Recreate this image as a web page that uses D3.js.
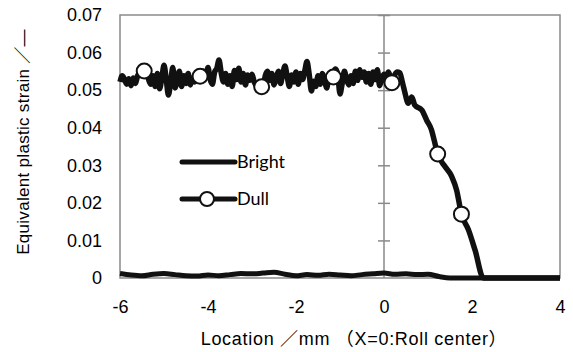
<!DOCTYPE html>
<html><head><meta charset="utf-8">
<script src="https://cdn.jsdelivr.net/npm/d3@7"></script>
<style>
html,body{margin:0;padding:0;background:#fff;}
text{font-family:"Liberation Sans","Noto Sans CJK JP",sans-serif;}
</style></head>
<body><svg id="c" width="573" height="352"></svg>
<script>
// ---- data ----
const xTicks = [-6, -4, -2, 0, 2, 4];
const xTickLabels = ["-6", "-4", "-2", "0", "2", "4"];
const yTicks = [0, 0.01, 0.02, 0.03, 0.04, 0.05, 0.06, 0.07];
const yTickLabels = ["0", "0.01", "0.02", "0.03", "0.04", "0.05", "0.06", "0.07"];

// Bright (no markers)
const brightX = [-6, -5.75, -5.5, -5.25, -5, -4.75, -4.5, -4.25, -4, -3.75, -3.5, -3.25, -3, -2.75, -2.5, -2.25, -2, -1.75, -1.5, -1.25, -1, -0.75, -0.5, -0.25, 0, 0.25, 0.5, 0.75, 1.0, 1.25, 1.5, 4];
const brightY = [0.0012, 0.0008, 0.0006, 0.0010, 0.0012, 0.0009, 0.0006, 0.0005, 0.0008, 0.0006, 0.0009, 0.0012, 0.0011, 0.0013, 0.0015, 0.0010, 0.0006, 0.0009, 0.0007, 0.0010, 0.0008, 0.0006, 0.0009, 0.0011, 0.0013, 0.0010, 0.0011, 0.0009, 0.0010, 0.0004, 0.0, 0.0];

// Dull: noisy plateau sampled every 0.05 mm from -6.00 to 0.30
const dullPlateauStart = -6.0;
const dullPlateauStep = 0.05;
const dullPlateau = [
  0.0522, 0.0538, 0.0530, 0.0516, 0.0530, 0.0512, 0.0532, 0.0518, 0.0538, 0.0548,
  0.0552, 0.0554, 0.0546, 0.0528, 0.0516, 0.0538, 0.0510, 0.0544, 0.0504, 0.0532,
  0.0566, 0.0530, 0.0487, 0.0520, 0.0560, 0.0506, 0.0528, 0.0550, 0.0510, 0.0538,
  0.0518, 0.0544, 0.0514, 0.0532, 0.0522, 0.0540, 0.0544, 0.0530, 0.0550, 0.0536,
  0.0560, 0.0528, 0.0516, 0.0548, 0.0558, 0.0580, 0.0546, 0.0522, 0.0544, 0.0516,
  0.0538, 0.0510, 0.0552, 0.0528, 0.0558, 0.0522, 0.0544, 0.0514, 0.0540, 0.0526,
  0.0542, 0.0522, 0.0512, 0.0508, 0.0518, 0.0508, 0.0538, 0.0550, 0.0526, 0.0544,
  0.0514, 0.0532, 0.0550, 0.0518, 0.0544, 0.0564, 0.0536, 0.0510, 0.0540, 0.0522,
  0.0548, 0.0516, 0.0544, 0.0528, 0.0552, 0.0576, 0.0542, 0.0498, 0.0524, 0.0510,
  0.0538, 0.0516, 0.0544, 0.0526, 0.0506, 0.0538, 0.0526, 0.0548, 0.0556, 0.0540,
  0.0490, 0.0518, 0.0550, 0.0528, 0.0514, 0.0538, 0.0518, 0.0550, 0.0526, 0.0554,
  0.0534, 0.0548, 0.0522, 0.0544, 0.0516, 0.0548, 0.0528, 0.0554, 0.0512, 0.0530,
  0.0542, 0.0522, 0.0548, 0.0534, 0.0528, 0.0542, 0.0548
];
// Dull: decline part
const dullTailX = [0.36, 0.42, 0.48, 0.55, 0.63, 0.70, 0.86, 0.97, 1.08, 1.14, 1.22, 1.39, 1.54, 1.65, 1.76, 1.92, 2.07, 2.26, 4.0];
const dullTailY = [0.0546, 0.0520, 0.0491, 0.0465, 0.0482, 0.0460, 0.0447, 0.0420, 0.0394, 0.0367, 0.0330, 0.0296, 0.0270, 0.0234, 0.0170, 0.0128, 0.0074, 0.0, 0.0];
// Dull markers
const dullMarkX = [-5.45, -4.18, -2.78, -1.15, 0.18, 1.22, 1.76];
const dullMarkY = [0.0551, 0.0537, 0.0509, 0.0535, 0.0520, 0.0330, 0.0170];

// ---- chart ----
const svg = d3.select("#c");
const x = d3.scaleLinear().domain([-6, 4]).range([120, 560]);
const y = d3.scaleLinear().domain([0, 0.07]).range([278, 15]);
const gray = "#8a8a8a";

// frame
svg.append("rect").attr("x", x(-6)).attr("y", y(0.07))
  .attr("width", x(4) - x(-6)).attr("height", y(0) - y(0.07))
  .attr("fill", "none").attr("stroke", gray).attr("stroke-width", 1.5);

// vertical axis at x=0 with ticks
const yAxis = d3.axisRight(y).tickValues(yTicks.slice(1)).tickSize(6).tickFormat("");
const ya = svg.append("g").attr("transform", `translate(${x(0)},0)`).call(yAxis);
ya.select(".domain").remove();
ya.selectAll(".tick line").attr("x1", -6).attr("x2", 6).attr("stroke", gray).attr("stroke-width", 1.5);
svg.append("line").attr("x1", x(0)).attr("x2", x(0)).attr("y1", y(0.07)).attr("y2", y(0))
  .attr("stroke", gray).attr("stroke-width", 1.5);

// left tick labels
const yl = svg.append("g").attr("transform", `translate(${x(-6)},0)`)
  .call(d3.axisLeft(y).tickValues(yTicks).tickSize(0).tickPadding(18)
    .tickFormat((d, i) => yTickLabels[i]));
yl.select(".domain").remove();
yl.attr("font-family", null).attr("font-size", null);
yl.selectAll("text").attr("font-size", 18).attr("fill", "#000")
  .style("font-family", '"Liberation Sans",Arial,sans-serif');

// bottom tick labels
const xl = svg.append("g").attr("transform", `translate(0,${y(0)})`)
  .call(d3.axisBottom(x).tickValues(xTicks).tickSize(0).tickPadding(22)
    .tickFormat((d, i) => xTickLabels[i]));
xl.select(".domain").remove();
xl.attr("font-family", null).attr("font-size", null);
xl.selectAll("text").attr("font-size", 18).attr("fill", "#000")
  .style("font-family", '"Liberation Sans",Arial,sans-serif');

// lines
const line = d3.line().x(d => x(d[0])).y(d => y(d[1])).curve(d3.curveMonotoneX);
const brightData = brightX.map((v, i) => [v, brightY[i]]);
const dullData = dullPlateau.map((v, i) => [dullPlateauStart + i * dullPlateauStep, v])
  .concat(dullTailX.map((v, i) => [v, dullTailY[i]]));

svg.append("path").datum(brightData).attr("d", line)
  .attr("fill", "none").attr("stroke", "#111").attr("stroke-width", 5).attr("stroke-linejoin", "round");
svg.append("path").datum(dullData).attr("d", line)
  .attr("fill", "none").attr("stroke", "#111").attr("stroke-width", 5.5).attr("stroke-linejoin", "round");

svg.selectAll("circle.m").data(dullMarkX.map((v, i) => [v, dullMarkY[i]])).enter()
  .append("circle").attr("class", "m")
  .attr("cx", d => x(d[0])).attr("cy", d => y(d[1])).attr("r", 7.5)
  .attr("fill", "#fff").attr("stroke", "#111").attr("stroke-width", 2);

// legend
const lg = svg.append("g");
lg.append("line").attr("x1", 182).attr("x2", 235).attr("y1", 162).attr("y2", 162)
  .attr("stroke", "#111").attr("stroke-width", 5).attr("stroke-linecap", "round");
lg.append("text").attr("x", 237).attr("y", 168).attr("font-size", 18).text("Bright")
  .style("font-family", 'Lato,sans-serif');
lg.append("line").attr("x1", 182).attr("x2", 235).attr("y1", 199).attr("y2", 199)
  .attr("stroke", "#111").attr("stroke-width", 5).attr("stroke-linecap", "round");
lg.append("circle").attr("cx", 207).attr("cy", 199).attr("r", 7)
  .attr("fill", "#fff").attr("stroke", "#111").attr("stroke-width", 2);
lg.append("text").attr("x", 237).attr("y", 205).attr("font-size", 18).text("Dull")
  .style("font-family", 'Lato,sans-serif');

// axis titles
svg.append("text").attr("x", 354).attr("y", 345).attr("text-anchor", "middle")
  .attr("font-size", 18).attr("letter-spacing", 0.7).text("Location ／mm （X=0:Roll center）");
svg.append("text").attr("transform", "translate(29,142) rotate(-90)")
  .attr("text-anchor", "middle").attr("font-size", 17).attr("letter-spacing", 0.3)
  .text("Equivalent plastic strain ／—");
</script></body></html>
